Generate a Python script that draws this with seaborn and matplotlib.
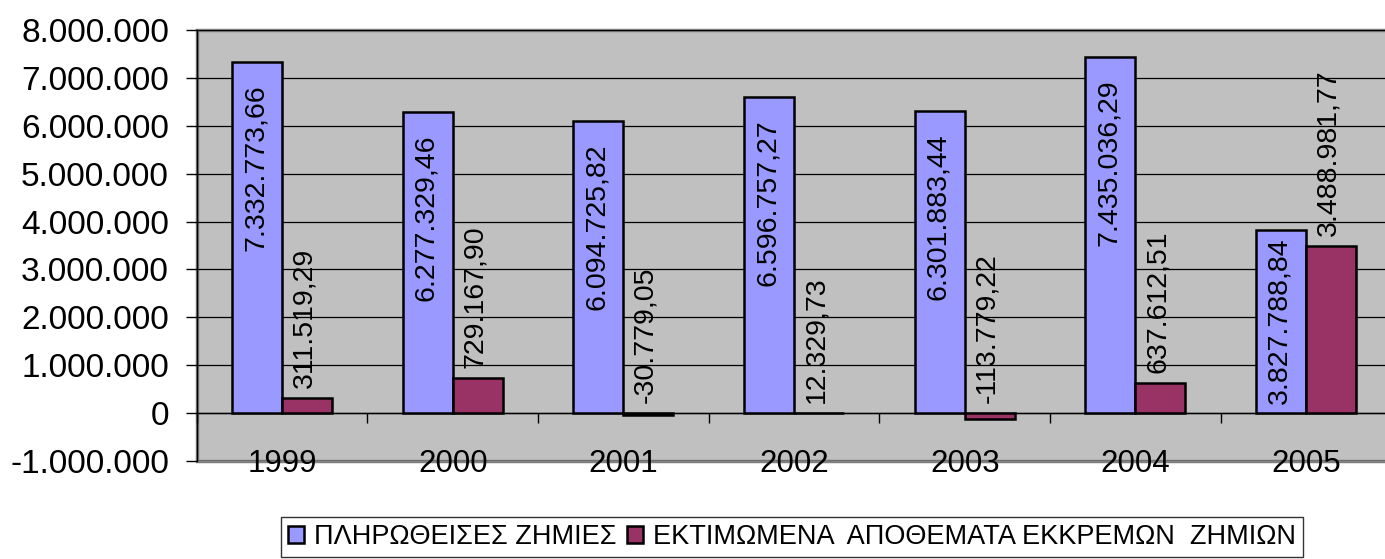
import numpy as np
import pandas as pd
import matplotlib
matplotlib.use("Agg")
import matplotlib.pyplot as plt
from matplotlib.ticker import FuncFormatter, FixedLocator
from matplotlib.patches import Patch
import seaborn as sns

years = ["1999", "2000", "2001", "2002", "2003", "2004", "2005"]
paid = [7332773.66, 6277329.46, 6094725.82, 6596757.27, 6301883.44, 7435036.29, 3827788.84]
reserves = [311519.29, 729167.90, -30779.05, 12329.73, -113779.22, 637612.51, 3488981.77]
series_names = ["ΠΛΗΡΩΘΕΙΣΕΣ ΖΗΜΙΕΣ", "ΕΚΤΙΜΩΜΕΝΑ  ΑΠΟΘΕΜΑΤΑ ΕΚΚΡΕΜΩΝ  ΖΗΜΙΩΝ"]
colors = ["#9999FF", "#993366"]
y_ticks = [-1000000, 0, 1000000, 2000000, 3000000, 4000000, 5000000, 6000000, 7000000, 8000000]

df = pd.DataFrame({
    "year": years * 2,
    "value": paid + reserves,
    "series": [series_names[0]] * len(years) + [series_names[1]] * len(years),
})

sns.set_theme(style="white")
plt.rcParams["font.family"] = ["Liberation Sans", "DejaVu Sans"]

fig = plt.figure(figsize=(13.85, 5.59), dpi=100)
ax = fig.add_axes([196.7 / 1385, (559 - 461) / 559, 1194.7 / 1385, (461 - 30) / 559])
ax.set_facecolor("#C0C0C0")

sns.barplot(data=df, x="year", y="value", hue="series", palette=colors, saturation=1,
            width=0.586, gap=0, edgecolor="black", linewidth=1.8,
            errorbar=None, ax=ax, zorder=3)
ax.get_legend().remove()

def gr_num(v, decimals):
    s = f"{abs(v):,.{decimals}f}"
    s = s.replace(",", "X").replace(".", ",").replace("X", ".")
    return ("-" if v < 0 else "") + s

ax.set_ylim(-1000000, 8000000)
ax.set_xlim(-0.5, len(years) - 0.5)
ax.yaxis.set_major_locator(FixedLocator(y_ticks))
ax.yaxis.set_major_formatter(FuncFormatter(lambda v, p: gr_num(v, 0)))
ax.grid(axis="y", color="black", linewidth=0.9, zorder=1)
ax.set_axisbelow(True)
ax.set_xlabel("")
ax.set_ylabel("")

for sp in ["top", "right"]:
    ax.spines[sp].set_visible(False)
ax.spines["left"].set_color("black")
ax.spines["left"].set_linewidth(1.0)
ax.spines["bottom"].set_position(("data", 0))
ax.spines["bottom"].set_color("black")
ax.spines["bottom"].set_linewidth(1.0)
ax.patch.set_edgecolor("#808080")
ax.patch.set_linewidth(2.5)

ax.tick_params(axis="y", direction="out", length=8, width=1, color="black",
               pad=12, labelsize=24, left=True, labelcolor="black")
ax.set_xticks(range(len(years)))
ax.set_xticklabels(years)
ax.tick_params(axis="x", which="major", length=0, pad=26, labelsize=22.5, labelcolor="black")
ax.set_xticks(np.arange(len(years) + 1) - 0.5, minor=True)
ax.tick_params(axis="x", which="minor", direction="out", length=7, width=1,
               color="black", bottom=True)

# value labels
cont_paid, cont_res = ax.containers[0], ax.containers[1]
paid_labels = []
for bar, v in zip(cont_paid, paid):
    xc = bar.get_x() + bar.get_width() / 2
    a = ax.annotate(gr_num(v, 2), (xc, v), xytext=(-1, -16), textcoords="offset points",
                    rotation=90, ha="center", va="top", fontsize=20.5, color="black", zorder=5)
    paid_labels.append((a, v))
for bar, v in zip(cont_res, reserves):
    xc = bar.get_x() + bar.get_width() / 2
    ax.annotate(gr_num(v, 2), (xc, max(v, 0)), xytext=(-2, 7), textcoords="offset points",
                rotation=90, ha="center", va="bottom", fontsize=20.5, color="black", zorder=5)

# keep inside labels from running below the zero line
fig.canvas.draw()
renderer = fig.canvas.get_renderer()
zero_px = ax.transData.transform((0, 0))[1]
for a, v in paid_labels:
    bb = a.get_window_extent(renderer)
    min_bottom = zero_px + 9
    if bb.y0 < min_bottom:
        shift_pt = (min_bottom - bb.y0) * 72 / fig.dpi
        x0, y0 = a.xyann
        a.xyann = (x0, y0 + shift_pt)

handles = [Patch(facecolor=c, edgecolor="black", linewidth=1.8) for c in colors]
leg = fig.legend(handles, series_names, loc="upper center", bbox_to_anchor=(792 / 1385, 1 - 517 / 559),
                 ncol=2, fontsize=19.5, frameon=True, fancybox=False, edgecolor="black",
                 handlelength=0.6, handleheight=0.6, handletextpad=0.35, columnspacing=0.4,
                 borderpad=0.25, borderaxespad=0)
leg.get_frame().set_linewidth(1.0)
for t in leg.get_texts():
    t.set_color("black")

fig.savefig("out.png", dpi=100)
